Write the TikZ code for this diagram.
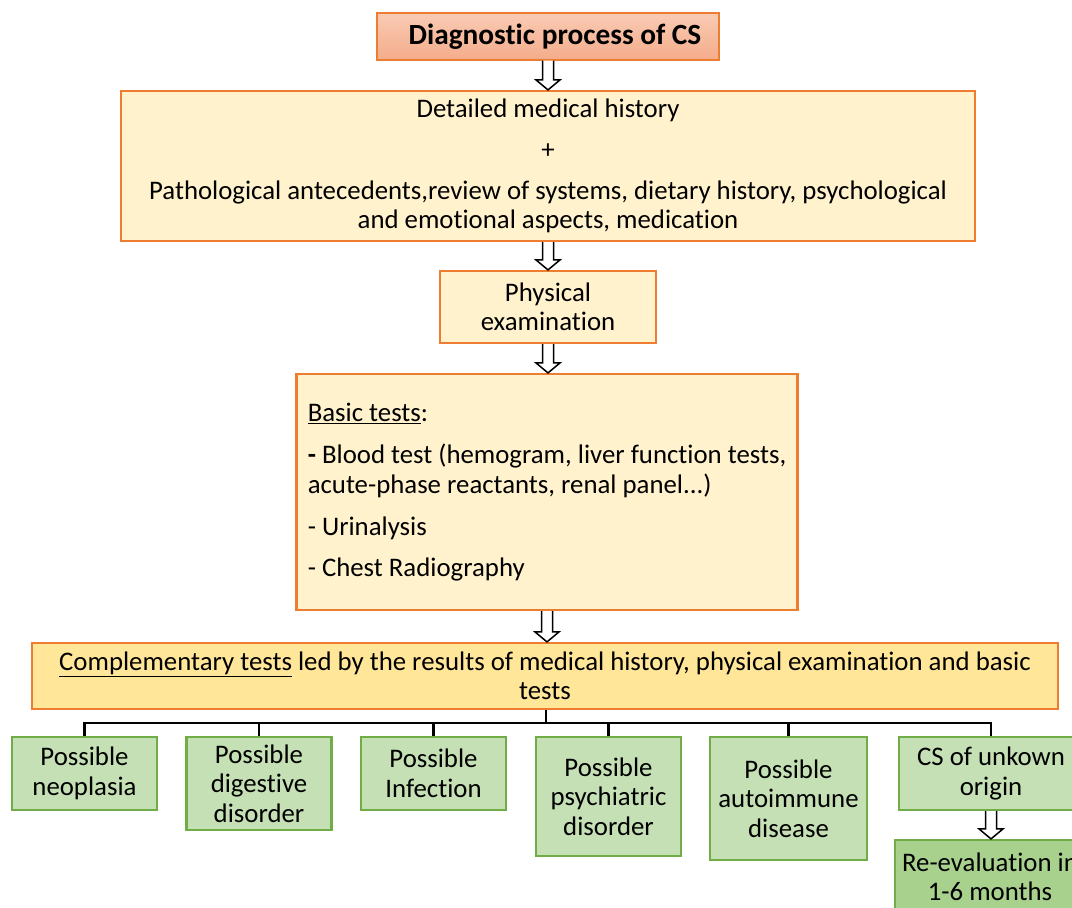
\documentclass[tikz,border=0pt]{standalone}
\usepackage{fontspec}
\setmainfont[Ligatures=NoCommon]{Carlito}
\usetikzlibrary{calc}

\definecolor{boxorange}{HTML}{ED7D31}
\definecolor{salmontop}{HTML}{F9CBB4}
\definecolor{salmonbot}{HTML}{F4AC8A}
\definecolor{cream}{HTML}{FFF2CC}
\definecolor{gold}{HTML}{FFE699}
\definecolor{leafgreen}{HTML}{70AD47}
\definecolor{leaffill}{HTML}{C5E0B4}
\definecolor{reevalfill}{HTML}{A9D18E}

\begin{document}
\begin{tikzpicture}[x=1pt, y=-1pt,
   every node/.style={font=\fontsize{26.8}{29.5}\selectfont, inner sep=0pt},
   titlebox/.style={draw=boxorange, line width=1.2pt, top color=salmontop, bottom color=salmonbot,
      minimum width=342pt, minimum height=47pt, font=\fontsize{29.3}{30}\selectfont\bfseries},
   stepbox/.style={draw=boxorange, line width=2.2pt, fill=cream, align=center},
   leafbox/.style={draw=leafgreen, line width=2.2pt, fill=leaffill, align=center, minimum width=145pt},
   branch/.style={draw=black, line width=2.2pt},
   hollow/.style={draw=black, fill=white, line width=1.5pt,
      to path={let \p1=(\tikztostart), \p2=(\tikztotarget) in
         (\x1-5.5,\y1) -- (\x1-5.5,\y2+10) -- (\x1-12,\y2+10) -- (\x1,\y2)
         -- (\x1+12,\y2+10) -- (\x1+5.5,\y2+10) -- (\x1+5.5,\y1) \tikztonodes}}]
   \useasboundingbox (0,0) rectangle (1072,908);
   \clip (0,0) rectangle (1072,908);

   % main chain
   \node[titlebox] (title) at (548,36.5) {\hspace*{14pt}Diagnostic process of CS};
   \node[stepbox, minimum width=854pt, minimum height=150pt] (hist) at (548,166)
      {Detailed medical history\\[12pt]
       +\\[11pt]
       Pathological antecedents,review of systems, dietary history, psychological\\
       and emotional aspects, medication};
   \node[stepbox, minimum width=216pt, minimum height=72pt] (phys) at (548,307)
      {Physical\\examination};
   \node[stepbox, align=left, minimum width=501pt, minimum height=236pt] (basic) at (547,492)
      {\underline{Basic tests}:\\[13pt]
       \textbf{-} Blood test (hemogram, liver function tests,\\
       acute-phase reactants, renal panel...)\\[13pt]
       - Urinalysis\\[11pt]
       - Chest Radiography};
   \node[stepbox, fill=gold, minimum width=1026pt, minimum height=66pt] (comp) at (545,676)
      {\underline{Complementary tests} led by the results of medical history, physical examination and basic\\tests};

   \draw[hollow] (title.south) to (hist.north);
   \draw[hollow] (hist.south) to (phys.north);
   \draw[hollow] (phys.south) to (basic.north);
   \draw[hollow] (basic.south) to (comp.north);

   % possible causes
   \node[leafbox, minimum height=73pt] (neo) at (84.5,773.5) {Possible\\neoplasia};
   \node[leafbox, minimum height=93pt] (dig) at (259,783.5) {Possible\\digestive\\disorder};
   \node[leafbox, minimum height=73pt] (inf) at (433.5,773.5) {Possible\\Infection};
   \node[leafbox, minimum height=119pt] (psy) at (608.5,796.5) {Possible\\psychiatric\\disorder};
   \node[leafbox, minimum width=157pt, minimum height=123pt] (aut) at (788.5,798.5) {Possible\\autoimmune\\disease};
   \node[leafbox, minimum width=184pt, minimum height=73pt] (cso) at (991,773.5) {CS of unkown\\origin};
   \node[leafbox, fill=reevalfill, minimum width=190pt, minimum height=74pt] (reeval) at (990,877)
      {Re-evaluation in\\1-6 months};

   \coordinate (hub) at (546,723);
   \draw[branch] (hub |- comp.south) -- (hub);
   \foreach \leaf in {neo,dig,inf,psy,aut,cso}
      \draw[branch] (hub) -| (\leaf.north);
   \draw[hollow] (cso.south) to (reeval.north);
\end{tikzpicture}
\end{document}
